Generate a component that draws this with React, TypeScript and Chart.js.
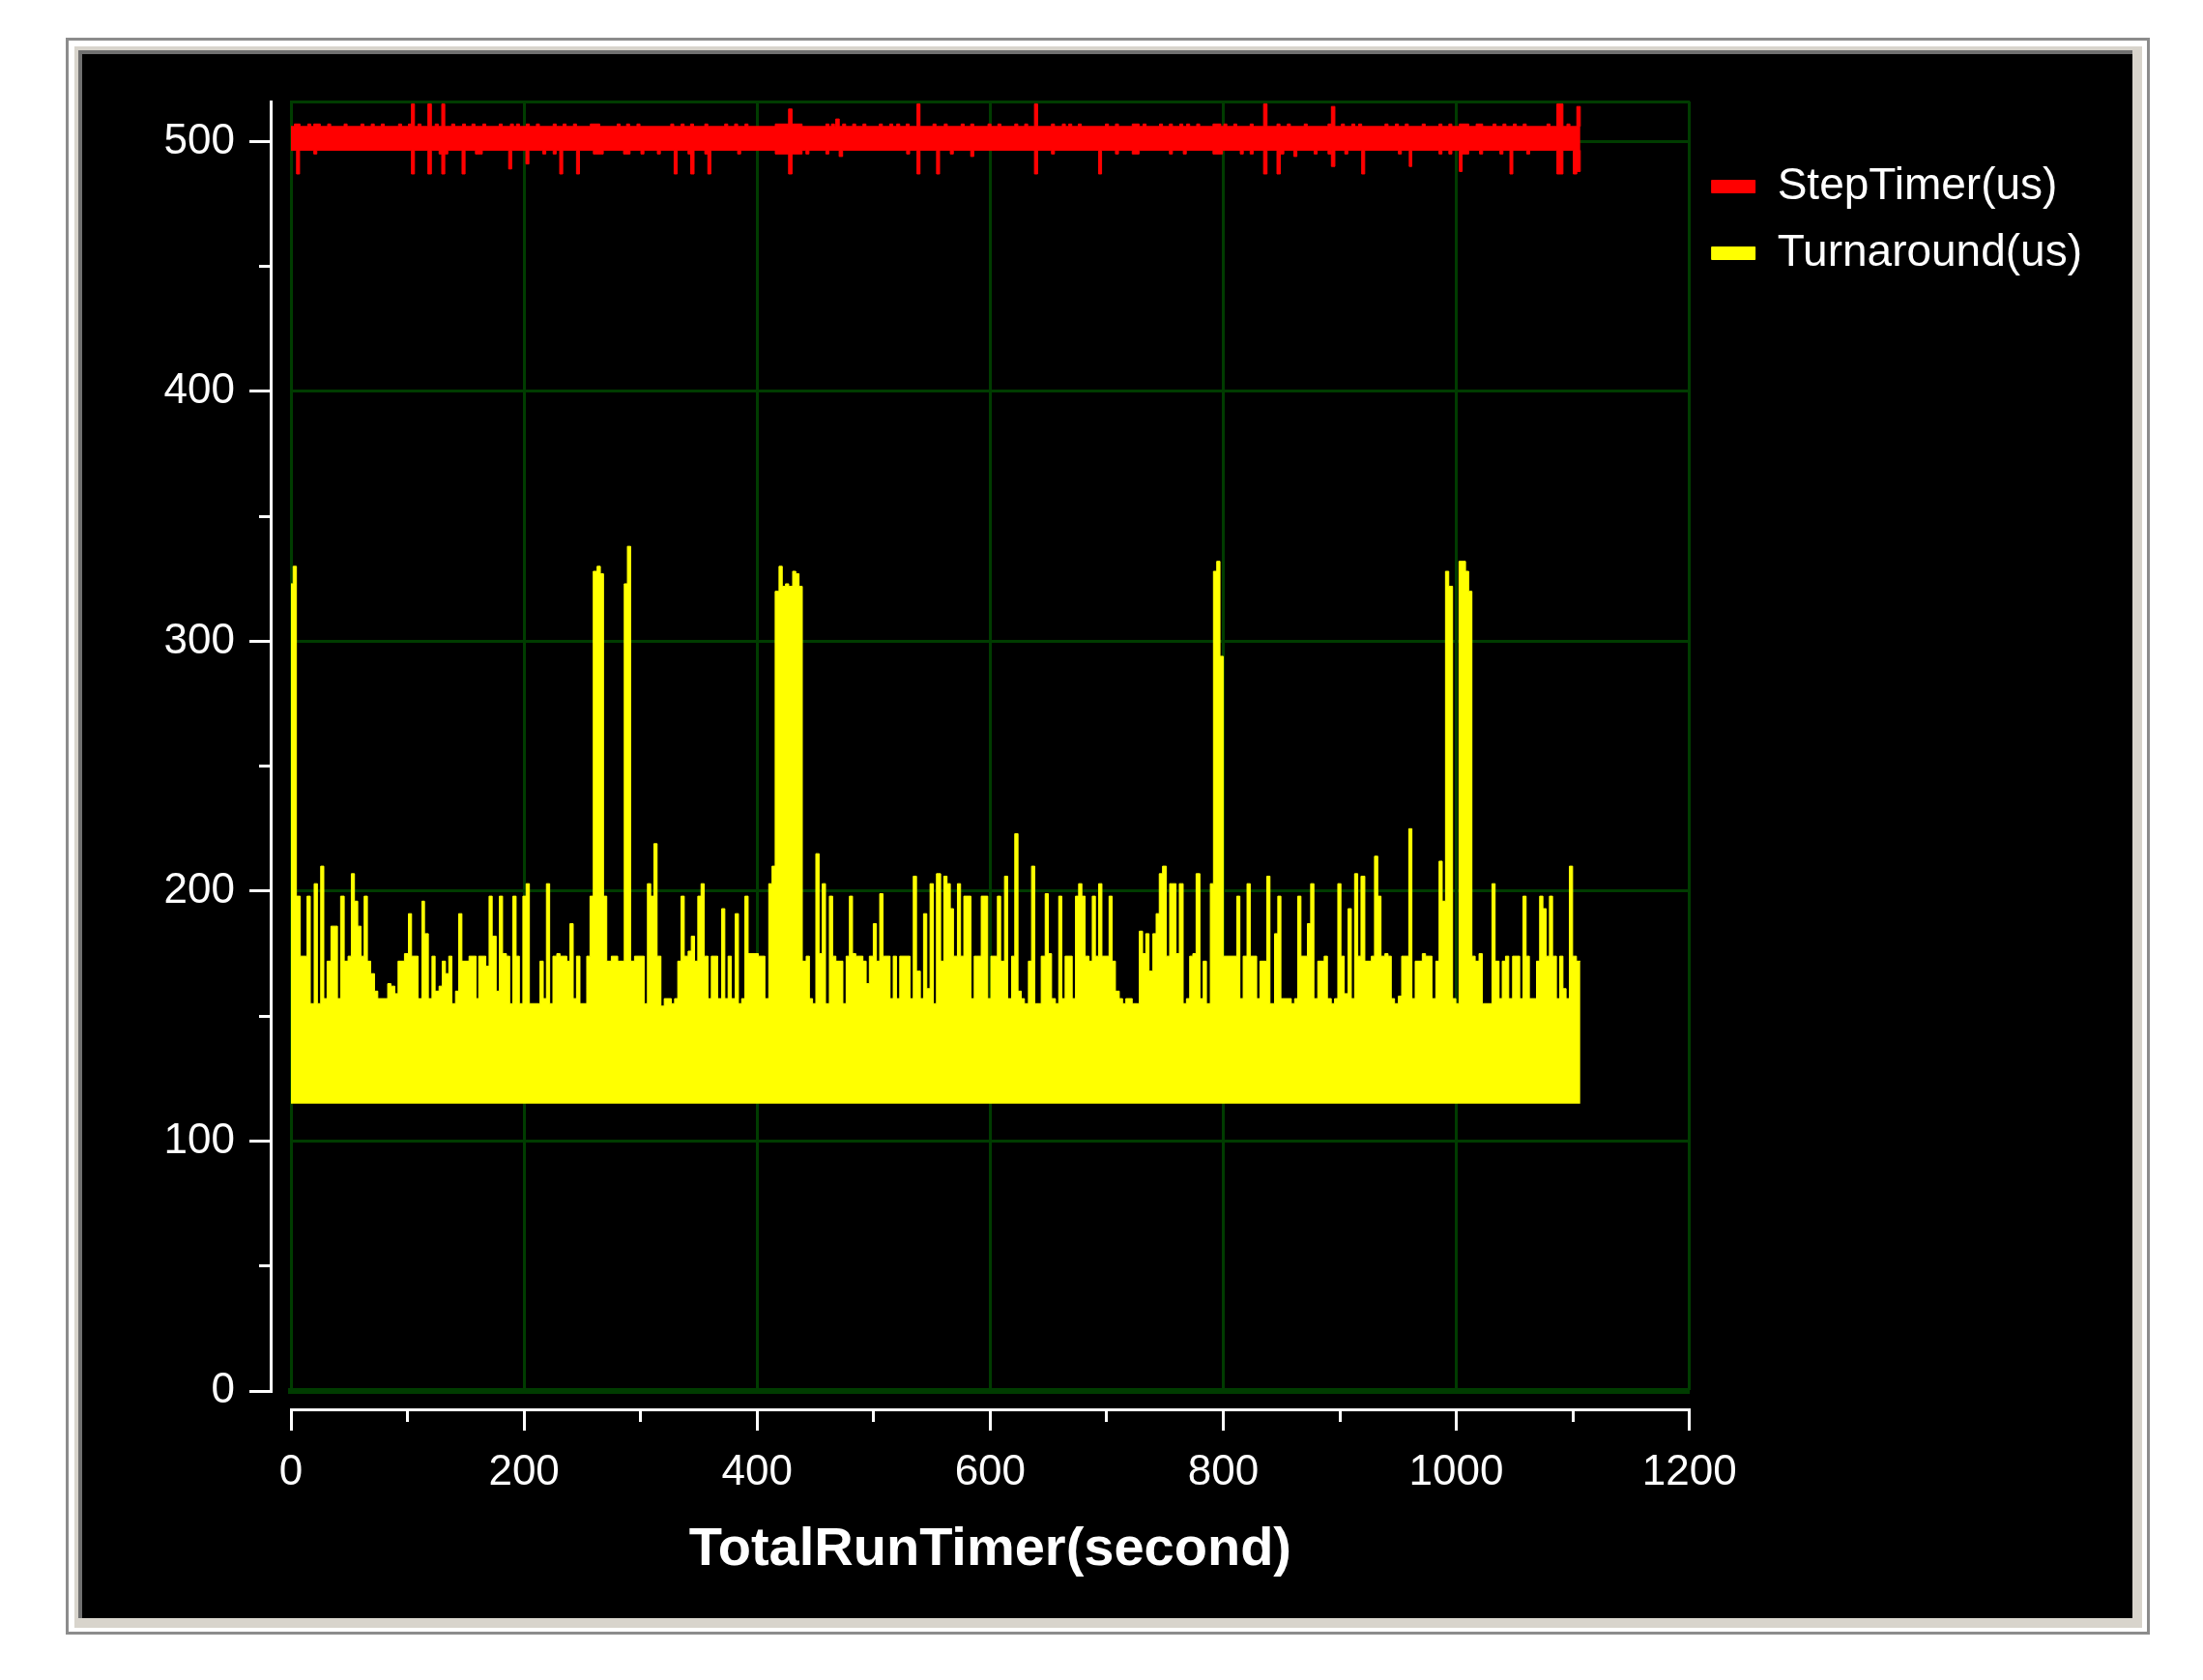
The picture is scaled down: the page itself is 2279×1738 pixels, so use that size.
import React, { useEffect, useRef } from 'react';
import { Chart, registerables } from 'chart.js';

Chart.register(...registerables);

// ---------- text ----------
const X_TITLE = 'TotalRunTimer(second)';
const STEP_LABEL = 'StepTimer(us)';
const TURN_LABEL = 'Turnaround(us)';

// ---------- axes ----------
const X_MIN = 0;
const X_MAX = 1200;
const X_TICK_STEP = 100; // minor ticks
const X_LABEL_STEP = 200; // labelled ticks + grid lines
const Y_MIN = 0;
const Y_MAX = 516;
const Y_TICK_STEP = 50;
const Y_LABEL_STEP = 100;

// ---------- data ----------
const RUN_END = 1106.4; // last sample, seconds

// Turnaround(us): signal swings down to a floor of ~115 us every sample;
// upper envelope as [start time (s), peak value (us)] steps
const TURNAROUND_FLOOR = 115;
const turnaroundEnvelope: [number, number][] = [
  [0, 323], [1.9, 330], [4.7, 198], [8.0, 174], [13.8, 198], [16.6, 155], [19.9, 203], [22.7, 155],
  [25.5, 210], [28.2, 157], [31.0, 172], [34.3, 186], [39.9, 157], [42.6, 198], [45.7, 172], [49.0, 174],
  [51.8, 207], [54.5, 196], [57.3, 186], [60.1, 174], [62.8, 198], [65.6, 172], [68.4, 167], [71.7, 160],
  [74.5, 157], [83.0, 163], [85.8, 162], [89.1, 159], [91.9, 172], [97.4, 175], [100.8, 191], [103.5, 174],
  [109.1, 157], [112.4, 196], [114.6, 183], [117.9, 157], [121.0, 174], [123.7, 160], [127.1, 162], [129.8, 172],
  [132.6, 167], [135.4, 174], [138.1, 155], [141.2, 160], [143.9, 191], [146.7, 172], [152.8, 174], [158.9, 157],
  [161.1, 174], [167.2, 170], [170.0, 198], [172.7, 182], [176.1, 160], [178.8, 198], [181.6, 175], [184.9, 174],
  [187.7, 155], [190.4, 198], [193.2, 174], [196.0, 155], [199.0, 198], [201.8, 203], [204.6, 155], [213.7, 172],
  [216.5, 157], [219.2, 203], [222.0, 155], [224.8, 174], [228.1, 175], [230.9, 174], [236.7, 172], [239.4, 187],
  [242.2, 157], [245.0, 174], [248.0, 155], [253.8, 174], [256.6, 198], [259.4, 328], [262.7, 330], [265.5, 327],
  [268.2, 198], [271.0, 172], [274.9, 174], [280.4, 172], [286.0, 323], [288.7, 338], [291.5, 172], [294.8, 174],
  [303.1, 155], [305.9, 203], [308.7, 198], [311.4, 219], [314.2, 174], [317.5, 154], [320.3, 157], [326.4, 155],
  [329.2, 157], [331.9, 172], [334.7, 198], [337.5, 174], [340.8, 176], [343.5, 182], [346.3, 172], [349.1, 198],
  [351.9, 203], [354.6, 174], [357.9, 157], [360.7, 174], [366.2, 157], [369.6, 193], [372.3, 157], [375.1, 174],
  [377.9, 157], [381.2, 191], [384.0, 155], [386.7, 157], [389.5, 198], [392.3, 175], [401.1, 174], [406.7, 157],
  [410.0, 203], [412.8, 210], [415.5, 320], [418.8, 330], [421.6, 322], [424.4, 323], [427.1, 322], [430.5, 328],
  [433.2, 327], [436.0, 322], [438.8, 172], [442.1, 174], [444.9, 157], [447.6, 155], [450.4, 215], [453.2, 175],
  [455.9, 203], [458.7, 155], [462.0, 198], [464.8, 174], [467.6, 172], [473.6, 155], [476.4, 174], [479.2, 198],
  [481.9, 175], [484.7, 174], [490.8, 172], [493.6, 163], [496.3, 174], [499.7, 187], [502.4, 172], [505.2, 199],
  [508.0, 174], [514.1, 157], [516.8, 174], [519.6, 157], [522.4, 174], [531.2, 157], [534.0, 206], [536.8, 168],
  [540.1, 157], [542.8, 191], [545.6, 161], [548.4, 203], [551.2, 155], [553.9, 207], [557.5, 172], [560.2, 206],
  [563.0, 203], [565.8, 193], [568.5, 174], [571.9, 203], [574.6, 174], [577.4, 198], [583.5, 157], [586.3, 174],
  [592.3, 198], [597.9, 157], [600.6, 174], [606.2, 198], [609.0, 172], [612.3, 206], [615.0, 157], [618.4, 174],
  [621.1, 223], [623.9, 160], [626.7, 157], [629.4, 155], [632.8, 172], [635.5, 210], [638.3, 155], [643.8, 174],
  [647.2, 199], [649.9, 175], [652.7, 157], [656.0, 155], [658.8, 198], [661.5, 157], [664.3, 174], [670.4, 157],
  [673.2, 198], [675.9, 203], [678.7, 198], [681.5, 174], [684.8, 172], [687.6, 198], [690.3, 174], [693.1, 203],
  [695.9, 174], [702.0, 198], [704.7, 172], [707.5, 160], [710.8, 157], [713.6, 155], [716.4, 157], [721.9, 155],
  [728.0, 184], [730.8, 175], [733.5, 183], [736.3, 168], [739.6, 183], [742.4, 191], [745.1, 207], [747.9, 210],
  [751.2, 174], [754.0, 203], [759.5, 175], [762.3, 203], [765.6, 155], [768.4, 157], [771.2, 174], [773.9, 175],
  [776.7, 207], [780.0, 157], [782.8, 172], [785.6, 155], [788.9, 203], [791.6, 328], [794.4, 332], [797.2, 294],
  [800.0, 174], [811.6, 198], [814.3, 157], [817.1, 174], [820.4, 203], [823.2, 174], [828.7, 157], [831.5, 172],
  [837.4, 206], [840.1, 155], [844.0, 183], [846.8, 198], [849.5, 157], [858.4, 155], [861.2, 157], [863.9, 198],
  [866.7, 174], [872.2, 187], [875.0, 203], [877.8, 157], [881.1, 172], [886.6, 174], [889.4, 157], [892.7, 155],
  [895.5, 157], [898.3, 203], [901.0, 174], [903.8, 159], [907.1, 193], [909.9, 157], [912.7, 207], [915.4, 174],
  [918.2, 206], [921.5, 172], [927.1, 174], [929.8, 214], [932.6, 198], [935.4, 174], [938.7, 175], [941.4, 174],
  [944.2, 157], [947.0, 155], [950.3, 158], [953.1, 174], [959.2, 225], [961.9, 157], [964.7, 172], [970.8, 175],
  [973.6, 174], [979.1, 157], [982.4, 172], [985.2, 212], [987.9, 196], [990.7, 328], [993.5, 322], [996.8, 157],
  [999.6, 155], [1002.3, 332], [1007.9, 328], [1010.6, 320], [1013.4, 174], [1016.2, 172], [1019.5, 175], [1022.3, 155],
  [1030.6, 203], [1033.3, 172], [1036.7, 157], [1039.4, 172], [1042.2, 174], [1045.0, 157], [1048.3, 174], [1054.4, 157],
  [1057.2, 198], [1059.9, 174], [1062.7, 157], [1068.8, 172], [1071.5, 198], [1074.3, 193], [1077.1, 174], [1079.9, 198],
  [1082.6, 174], [1085.9, 157], [1088.7, 174], [1091.5, 161], [1094.2, 157], [1097.0, 210], [1099.8, 174], [1103.1, 172],
];

// StepTimer(us): tight band around 500 us, with short excursions
const STEP_BAND_TOP = 506;
const STEP_BAND_BOTTOM = 496.5;
// [start (s), end (s), max value (us)]
const stepTimerHighEvents: [number, number, number][] = [
  [3.0, 7.8, 507], [14.4, 17.0, 507], [19.6, 25.2, 507], [31.5, 34.1, 507], [45.6, 48.2, 507], [60.0, 62.6, 507],
  [68.9, 71.5, 507], [77.5, 80.1, 507], [92.3, 94.9, 507], [100.8, 103.4, 507], [103.4, 106.0, 515], [109.0, 111.6, 507],
  [117.5, 120.5, 515], [123.8, 126.4, 507], [129.4, 132.0, 515], [137.9, 140.5, 507], [147.2, 149.8, 507], [155.3, 157.9, 507],
  [164.6, 167.2, 507], [178.7, 181.3, 507], [188.3, 190.9, 507], [193.5, 196.1, 507], [202.0, 204.6, 507], [210.6, 213.2, 507],
  [225.0, 227.6, 507], [233.5, 236.1, 507], [242.4, 245.0, 507], [256.9, 265.0, 507], [279.9, 282.5, 507], [288.0, 290.6, 507],
  [296.9, 299.5, 507], [325.9, 328.5, 507], [334.8, 337.4, 507], [342.9, 345.5, 507], [355.1, 357.7, 507], [372.2, 374.8, 507],
  [380.7, 383.3, 507], [389.6, 392.2, 507], [415.6, 427.0, 507], [427.0, 430.0, 513], [430.0, 438.6, 507], [459.0, 461.6, 507],
  [463.8, 466.4, 507], [467.5, 470.5, 509], [473.4, 476.0, 507], [482.0, 484.6, 507], [490.8, 493.4, 507], [504.9, 507.5, 507],
  [513.8, 516.4, 507], [519.8, 522.4, 507], [527.9, 530.5, 507], [537.2, 539.8, 515], [550.9, 553.5, 507], [560.6, 563.2, 507],
  [575.1, 577.7, 507], [583.3, 585.9, 507], [598.1, 600.7, 507], [606.6, 609.2, 507], [621.1, 623.7, 507], [629.6, 632.2, 507],
  [638.0, 640.7, 515], [652.6, 655.2, 507], [661.9, 664.5, 507], [667.4, 670.0, 507], [675.6, 678.2, 507], [698.9, 701.5, 507],
  [707.5, 710.1, 507], [721.9, 727.8, 507], [731.2, 733.8, 507], [745.3, 747.9, 507], [753.8, 756.4, 507], [762.7, 765.3, 507],
  [768.6, 771.2, 507], [777.2, 779.8, 507], [791.2, 797.9, 507], [800.5, 803.1, 507], [809.0, 811.6, 507], [823.1, 825.7, 507],
  [834.6, 837.6, 515], [846.1, 848.7, 507], [855.0, 857.6, 507], [869.5, 872.1, 507], [889.9, 892.5, 507], [892.8, 895.8, 514],
  [901.4, 904.0, 507], [910.3, 912.9, 507], [916.2, 918.8, 507], [938.8, 941.4, 507], [947.7, 950.3, 507], [956.2, 958.8, 507],
  [970.7, 973.3, 507], [985.1, 987.7, 507], [993.6, 996.2, 507], [1002.6, 1010.7, 507], [1017.0, 1022.6, 507], [1031.5, 1034.1, 507],
  [1040.0, 1042.6, 507], [1048.9, 1051.5, 507], [1057.4, 1060.0, 507], [1077.8, 1080.4, 507], [1086.3, 1091.5, 515],
  [1094.9, 1097.5, 507], [1103.4, 1106.4, 514],
];
// [start (s), end (s), min value (us)]
const stepTimerLowEvents: [number, number, number][] = [
  [4.8, 7.4, 487], [19.6, 22.2, 495], [103.4, 106.0, 487], [117.5, 120.5, 487], [127.1, 129.4, 495], [129.4, 132.0, 487],
  [132.0, 134.6, 495], [146.8, 149.4, 487], [158.3, 164.2, 495], [186.8, 189.4, 489], [201.6, 204.2, 491], [216.1, 218.7, 495],
  [225.0, 227.6, 495], [230.6, 233.2, 487], [245.0, 247.6, 487], [259.5, 268.0, 495], [285.4, 291.0, 495], [300.3, 302.9, 495],
  [314.4, 317.0, 495], [328.8, 331.4, 487], [340.7, 343.0, 495], [343.0, 345.9, 487], [355.1, 357.7, 495], [357.7, 360.3, 487],
  [383.3, 385.9, 495], [415.6, 427.0, 495], [427.0, 430.0, 487], [430.0, 438.6, 495], [441.9, 444.5, 495], [459.0, 461.6, 495],
  [470.4, 473.4, 494], [528.3, 530.9, 495], [537.2, 539.8, 487], [554.0, 556.6, 487], [565.8, 568.4, 495], [583.3, 585.9, 494],
  [638.0, 640.7, 487], [652.6, 655.2, 495], [693.0, 695.6, 487], [707.5, 710.1, 495], [721.9, 727.8, 495], [753.8, 756.4, 495],
  [765.7, 768.3, 495], [791.2, 799.4, 495], [814.6, 817.2, 495], [823.1, 825.7, 495], [834.6, 837.6, 487], [846.1, 849.0, 487],
  [849.0, 852.0, 495], [860.6, 863.2, 494], [878.0, 880.6, 495], [889.9, 892.5, 495], [892.8, 895.8, 490], [904.3, 906.9, 495],
  [918.8, 921.4, 487], [950.3, 952.9, 495], [959.6, 961.8, 490], [985.1, 987.7, 495], [993.6, 996.2, 495], [1002.6, 1005.0, 488],
  [1005.0, 1010.7, 495], [1020.0, 1022.6, 495], [1037.4, 1040.0, 495], [1046.0, 1048.5, 487], [1060.4, 1063.0, 495],
  [1086.3, 1091.5, 487], [1100.4, 1103.4, 487], [1103.4, 1106.4, 488],
];

// ---------- styles ----------
const RED = '#ff0000';
const YELLOW = '#ffff00';
const GRID_GREEN = '#003c00';
const WHITE = '#ffffff';
const FONT_FAMILY = "'Liberation Sans', Arial, sans-serif";

type Pt = { x: number; y: number };

function bandEnvelope(base: number, events: [number, number, number][]): Pt[] {
  const pts: Pt[] = [{ x: X_MIN, y: base }];
  for (const [t0, t1, v] of events) {
    pts.push({ x: t0, y: v });
    pts.push({ x: t1, y: base });
  }
  pts.push({ x: RUN_END, y: base });
  return pts;
}

function stepsToPoints(steps: [number, number][]): Pt[] {
  const pts: Pt[] = steps.map(([t, v]) => ({ x: t, y: v }));
  pts.push({ x: RUN_END, y: steps[steps.length - 1][1] });
  return pts;
}

const isMultiple = (v: number, step: number) => Math.round(v) % step === 0;

export default function App() {
  const canvasRef = useRef<HTMLCanvasElement>(null);

  useEffect(() => {
    const canvas = canvasRef.current;
    if (!canvas) return;

    const spacerBase = {
      type: 'linear' as const,
      display: true,
      ticks: { display: false },
      grid: { display: false, drawTicks: false },
      border: { display: true, color: GRID_GREEN, width: 3 },
    };

    const chart = new Chart(canvas, {
      type: 'line',
      data: {
        datasets: [
          {
            label: STEP_LABEL,
            data: bandEnvelope(STEP_BAND_TOP, stepTimerHighEvents),
            borderColor: RED,
            backgroundColor: RED,
            borderWidth: 1,
            pointRadius: 0,
            stepped: 'before',
            fill: '+1',
          },
          {
            label: STEP_LABEL + ' min',
            data: bandEnvelope(STEP_BAND_BOTTOM, stepTimerLowEvents),
            borderColor: RED,
            backgroundColor: RED,
            borderWidth: 1,
            pointRadius: 0,
            stepped: 'before',
            fill: false,
          },
          {
            label: TURN_LABEL,
            data: stepsToPoints(turnaroundEnvelope),
            borderColor: YELLOW,
            backgroundColor: YELLOW,
            borderWidth: 1,
            pointRadius: 0,
            stepped: 'before',
            fill: { value: TURNAROUND_FLOOR },
          },
        ],
      },
      options: {
        responsive: false,
        maintainAspectRatio: false,
        animation: false,
        devicePixelRatio: 1,
        layout: { padding: { top: 0, left: 0, bottom: 0, right: 42 } },
        plugins: {
          tooltip: { enabled: false },
          legend: {
            display: true,
            position: 'right',
            align: 'start',
            maxWidth: 418,
            title: { display: true, text: '', padding: { top: 81, bottom: 0 }, font: { size: 10, lineHeight: 1 } },
            labels: {
              color: WHITE,
              font: { family: FONT_FAMILY, size: 46, lineHeight: 1 },
              boxWidth: 45,
              boxHeight: 13,
              padding: 23,
              filter: (item: any) => item.datasetIndex !== 1,
            },
          },
        },
        scales: {
          x: {
            type: 'linear',
            position: 'bottom',
            axis: 'x',
            weight: 1,
            min: X_MIN,
            max: X_MAX,
            afterFit: (s: any) => {
              s.height = 216;
            },
            border: { display: true, color: WHITE, width: 3 },
            grid: {
              display: true,
              drawOnChartArea: true,
              drawTicks: true,
              color: (c: any) => (c.tick && isMultiple(c.tick.value, X_LABEL_STEP) ? GRID_GREEN : 'rgba(0,0,0,0)'),
              lineWidth: 3,
              tickLength: 22,
              tickWidth: 3,
              tickColor: WHITE,
              tickBorderDash: (c: any) => (c.tick && isMultiple(c.tick.value, X_LABEL_STEP) ? [] : [11, 100]),
            },
            ticks: {
              stepSize: X_TICK_STEP,
              autoSkip: false,
              maxRotation: 0,
              minRotation: 0,
              color: WHITE,
              padding: 17,
              font: { family: FONT_FAMILY, size: 44 },
              callback: (v: any) => (isMultiple(Number(v), X_LABEL_STEP) ? String(v) : ''),
            },
            title: {
              display: true,
              text: X_TITLE,
              color: WHITE,
              font: { family: FONT_FAMILY, size: 56, weight: 'bold' },
              padding: { top: 0, bottom: 37 },
            },
          },
          xGap: {
            ...spacerBase,
            position: 'bottom',
            axis: 'x',
            weight: 0,
            border: { display: true, color: GRID_GREEN, width: 6 },
            afterFit: (s: any) => {
              s.height = 19;
            },
          },
          xTop: {
            ...spacerBase,
            position: 'top',
            axis: 'x',
            afterFit: (s: any) => {
              s.height = 49;
            },
          },
          y: {
            type: 'linear',
            position: 'left',
            axis: 'y',
            weight: 1,
            min: Y_MIN,
            max: Y_MAX,
            afterFit: (s: any) => {
              s.width = 195;
            },
            border: { display: true, color: WHITE, width: 3 },
            grid: {
              display: true,
              drawOnChartArea: true,
              drawTicks: true,
              color: (c: any) => (c.tick && isMultiple(c.tick.value, Y_LABEL_STEP) ? GRID_GREEN : 'rgba(0,0,0,0)'),
              lineWidth: 3,
              tickLength: 22,
              tickWidth: 3,
              tickColor: WHITE,
              tickBorderDash: (c: any) => (c.tick && isMultiple(c.tick.value, Y_LABEL_STEP) ? [] : [0, 10, 12, 100]),
            },
            ticks: {
              stepSize: Y_TICK_STEP,
              includeBounds: false,
              autoSkip: false,
              color: WHITE,
              padding: 15,
              font: { family: FONT_FAMILY, size: 44 },
              callback: (v: any) => (isMultiple(Number(v), Y_LABEL_STEP) ? String(v) : ''),
            },
          },
          yGap: {
            ...spacerBase,
            position: 'left',
            axis: 'y',
            weight: 0,
            afterFit: (s: any) => {
              s.width = 21;
            },
          },
        },
      } as any,
    });

    return () => chart.destroy();
  }, []);

  return (
    <div style={{ position: 'absolute', left: 0, top: 0, width: 2279, height: 1738, background: '#ffffff', overflow: 'hidden' }}>
      <div
        style={{
          position: 'absolute',
          left: 68,
          top: 39,
          width: 2156,
          height: 1652,
          border: '3px solid #8c8c8c',
          boxSizing: 'border-box',
          background: '#ffffff',
        }}
      />
      <div style={{ position: 'absolute', left: 77, top: 48, width: 2139, height: 1636, background: '#d8d4cc' }} />
      <div style={{ position: 'absolute', left: 81, top: 52, width: 2125, height: 1622, background: '#707070' }} />
      <div style={{ position: 'absolute', left: 85, top: 56, width: 2121, height: 1618, background: '#000000' }}>
        <canvas ref={canvasRef} width={2121} height={1618} style={{ display: 'block', width: 2121, height: 1618 }} />
      </div>
    </div>
  );
}
